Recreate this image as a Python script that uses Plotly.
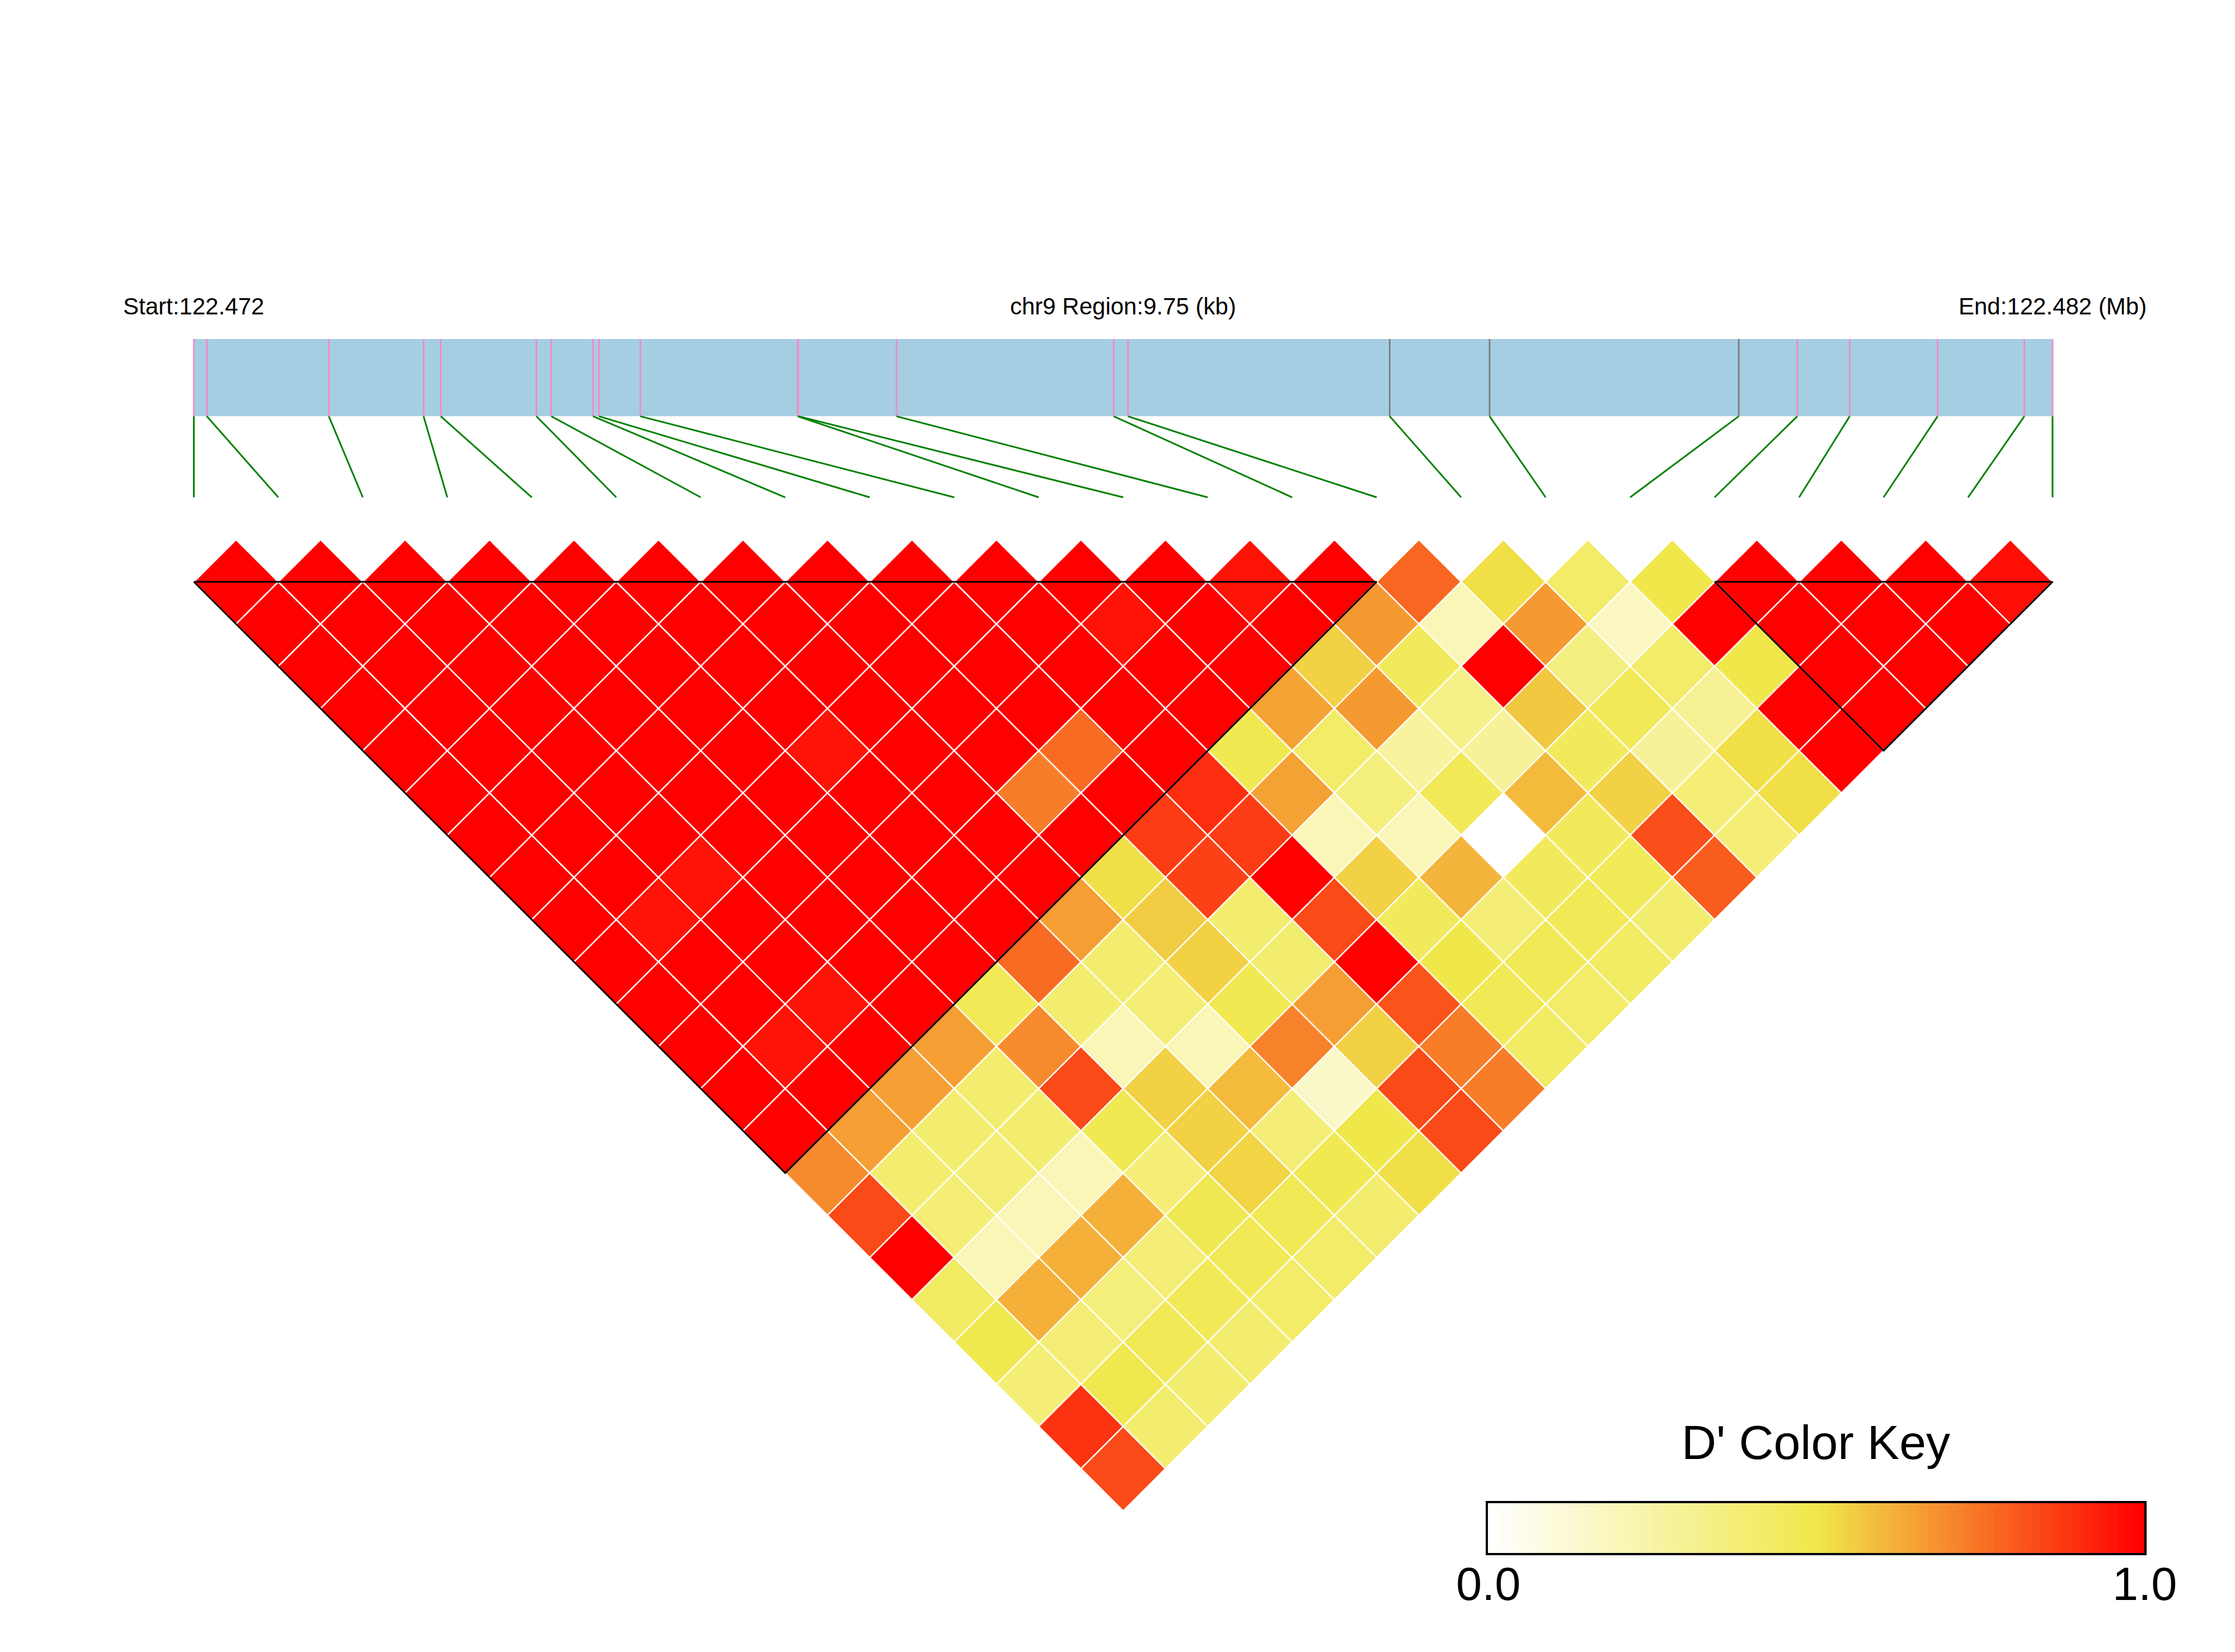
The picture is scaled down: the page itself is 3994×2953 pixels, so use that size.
import numpy as np
import plotly.graph_objects as go
from plotly.colors import sample_colorscale

# ---- data ----
chrom = "chr9"
# SNP positions (bp), left to right
snp_pos = [122472230, 122472298, 122472938, 122473435, 122473525, 122474027,
           122474105, 122474324, 122474355, 122474572, 122475397, 122475400,
           122475916, 122477055, 122477130, 122478503, 122479027, 122480334,
           122480641, 122480916, 122481377, 122481832, 122481980]

# haplotype blocks (first SNP index, last SNP index)
blocks = [(0, 14), (18, 22)]

# D' between SNP i and SNP j: one list per right-hand SNP j = 1..22, values for i = 0..j-1
dprime_rows = [
    [1.00],
    [1.00, 1.00],
    [1.00, 1.00, 1.00],
    [1.00, 1.00, 1.00, 1.00],
    [1.00, 1.00, 1.00, 1.00, 1.00],
    [1.00, 1.00, 1.00, 1.00, 1.00, 1.00],
    [1.00, 1.00, 1.00, 1.00, 1.00, 1.00, 1.00],
    [1.00, 1.00, 1.00, 1.00, 1.00, 1.00, 1.00, 1.00],
    [1.00, 1.00, 1.00, 1.00, 1.00, 1.00, 1.00, 1.00, 1.00],
    [1.00, 0.96, 0.96, 1.00, 1.00, 0.96, 1.00, 1.00, 1.00, 1.00],
    [1.00, 1.00, 1.00, 1.00, 1.00, 1.00, 1.00, 1.00, 1.00, 1.00, 1.00],
    [1.00, 1.00, 1.00, 1.00, 1.00, 1.00, 1.00, 1.00, 1.00, 1.00, 0.96, 1.00],
    [1.00, 0.96, 0.96, 1.00, 1.00, 1.00, 1.00, 0.73, 0.77, 1.00, 1.00, 1.00, 0.96],
    [1.00, 1.00, 1.00, 1.00, 1.00, 1.00, 1.00, 1.00, 1.00, 1.00, 1.00, 1.00, 1.00, 1.00],
    [0.70, 0.66, 0.66, 0.66, 0.47, 0.77, 0.66, 0.52, 0.87, 0.90, 0.48, 0.65, 0.55, 0.67, 0.78],
    [0.84, 0.40, 0.40, 0.40, 0.70, 0.40, 0.40, 0.56, 0.86, 0.87, 0.65, 0.42, 0.67, 0.45, 0.20,
     0.52],
    [1.00, 0.38, 0.38, 0.40, 0.84, 0.20, 0.38, 0.55, 0.40, 1.00, 0.20, 0.36, 0.27, 0.33, 1.00,
     0.67, 0.42],
    [0.43, 0.20, 0.20, 0.20, 0.48, 0.55, 0.20, 0.48, 0.40, 0.84, 0.55, 0.20, 0.47, 0.28, 0.57,
     0.35, 0.17, 0.50],
    [0.49, 0.62, 0.62, 0.62, 0.38, 0.55, 0.60, 0.72, 0.66, 1.00, 0.45, 0.61, 0.00, 0.60, 0.45,
     0.47, 0.42, 1.00, 1.00],
    [0.38, 0.38, 0.37, 0.38, 0.48, 0.54, 0.38, 0.15, 0.55, 0.82, 0.50, 0.38, 0.45, 0.45, 0.55,
     0.28, 0.30, 0.50, 1.00, 1.00],
    [0.89, 0.49, 0.47, 0.47, 0.47, 0.47, 0.48, 0.50, 0.84, 0.73, 0.47, 0.47, 0.47, 0.46, 0.83,
     0.38, 0.52, 1.00, 1.00, 1.00, 1.00],
    [0.84, 0.40, 0.40, 0.40, 0.42, 0.42, 0.40, 0.52, 0.84, 0.73, 0.43, 0.42, 0.43, 0.40, 0.80,
     0.38, 0.52, 1.00, 1.00, 1.00, 1.00, 0.97],
]

key_colors = [[0.0, "#FFFFFF"], [0.5, "#F0E84B"], [1.0, "#FF0000"]]
key_ticks = [0.0, 1.0]

# ---- figure ----
W, H = 3994, 2953
FONT = "Liberation Sans, Arial, Helvetica, sans-serif"
n = len(snp_pos)
start, end = snp_pos[0], snp_pos[-1]


def pos_to_x(p):
    # genomic position -> horizontal axis (SNP index units)
    return (p - start) / (end - start) * (n - 1)


in_block = set(k for a, b in blocks for k in range(a, b + 1))

fig = go.Figure()

# region bar
bar_lo, bar_hi, link_y = 1.96, 2.875, 1.0
fig.add_trace(go.Scatter(
    x=[pos_to_x(start), pos_to_x(end), pos_to_x(end), pos_to_x(start)],
    y=[bar_lo, bar_lo, bar_hi, bar_hi],
    fill="toself", fillcolor="#A6CEE3", mode="lines", line=dict(width=0),
    hoverinfo="skip", showlegend=False))

# SNP ticks inside the bar (pink = in a block, grey = outside)
for inside, col in [(True, "#F08CC8"), (False, "#808080")]:
    xs, ys = [], []
    for k, p in enumerate(snp_pos):
        if (k in in_block) == inside:
            xs += [pos_to_x(p), pos_to_x(p), None]
            ys += [bar_lo, bar_hi, None]
    fig.add_trace(go.Scatter(x=xs, y=ys, mode="lines", line=dict(color=col, width=3),
                             hoverinfo="skip", showlegend=False))

# connectors from genomic position to matrix column
xs, ys = [], []
for k, p in enumerate(snp_pos):
    xs += [pos_to_x(p), k, None]
    ys += [bar_lo, link_y, None]
fig.add_trace(go.Scatter(x=xs, y=ys, mode="lines", line=dict(color="#008000", width=3),
                         hoverinfo="skip", showlegend=False))

# LD diamonds
for j in range(1, n):
    for i, v in enumerate(dprime_rows[j - 1]):
        cx, cy = (i + j) / 2, -(j - i - 1) / 2
        fig.add_trace(go.Scatter(
            x=[cx - 0.5, cx, cx + 0.5, cx, cx - 0.5],
            y=[cy, cy + 0.5, cy, cy - 0.5, cy],
            fill="toself", fillcolor=sample_colorscale(key_colors, [v])[0],
            mode="lines", line=dict(color="white", width=2.5),
            hoverinfo="skip", showlegend=False))

# block outlines
for a, b in blocks:
    fig.add_trace(go.Scatter(
        x=[a, b, (a + b) / 2, a], y=[0, 0, -(b - a) / 2, 0],
        mode="lines", line=dict(color="black", width=3),
        hoverinfo="skip", showlegend=False))

# colour key
key_dom = [0.6658, 0.9595]
key_steps = np.linspace(0, 1, 100)
fig.add_trace(go.Heatmap(
    z=[key_steps], x=np.linspace(0, 1, 101), y=[0, 1],
    colorscale=key_colors, zmin=0, zmax=1, showscale=False,
    xaxis="x2", yaxis="y2", hoverinfo="skip"))

label_y = 3.26
labels = [
    (pos_to_x(start), f"Start:{start / 1e6:.3f}"),
    (pos_to_x((start + end) / 2), f"{chrom} Region:{(end - start) / 1000:.2f} (kb)"),
    (pos_to_x(end), f"End:{end / 1e6:.3f} (Mb)"),
]
annotations = [dict(x=x, y=label_y, xref="x", yref="y", text=t, showarrow=False,
                    font=dict(size=42, color="black", family=FONT),
                    xanchor="center", yanchor="middle") for x, t in labels]
annotations.append(dict(x=0.8125, y=0.127, xref="paper", yref="paper", text="D' Color Key",
                        showarrow=False, font=dict(size=86, color="black", family=FONT),
                        xanchor="center", yanchor="middle"))
# key tick labels, placed under the ends of the key
for t in key_ticks:
    annotations.append(dict(x=key_dom[0] + t * (key_dom[1] - key_dom[0]), y=0.041,
                            xref="paper", yref="paper", text=f"{t:.1f}",
                            showarrow=False, font=dict(size=83, color="black", family=FONT),
                            xanchor="center", yanchor="middle"))

px = 150.98   # pixels per SNP step
top = 1040    # pixel row of the matrix top edge
fig.update_layout(
    width=W, height=H, autosize=False,
    margin=dict(l=0, r=0, t=0, b=0, pad=0, autoexpand=False),
    paper_bgcolor="white", plot_bgcolor="white",
    font=dict(family=FONT, color="black"),
    annotations=annotations,
    xaxis=dict(range=[-346.4 / px, (W - 346.4) / px], visible=False, domain=[0, 1],
               automargin=False),
    yaxis=dict(range=[-(H - top) / px, top / px], visible=False, domain=[0, 1],
               automargin=False),
    xaxis2=dict(domain=key_dom, anchor="y2", range=[0, 1],
                showticklabels=False, ticks="", automargin=False,
                showline=True, mirror=True, linecolor="black", linewidth=4,
                showgrid=False, zeroline=False),
    yaxis2=dict(domain=[0.0599, 0.0901], anchor="x2", range=[0, 1],
                showticklabels=False, ticks="", automargin=False,
                showline=True, mirror=True, linecolor="black", linewidth=4,
                showgrid=False, zeroline=False),
    showlegend=False,
)

fig.write_html("out.html", config={"displayModeBar": False},
               post_script="document.body.style.margin='0px';")
